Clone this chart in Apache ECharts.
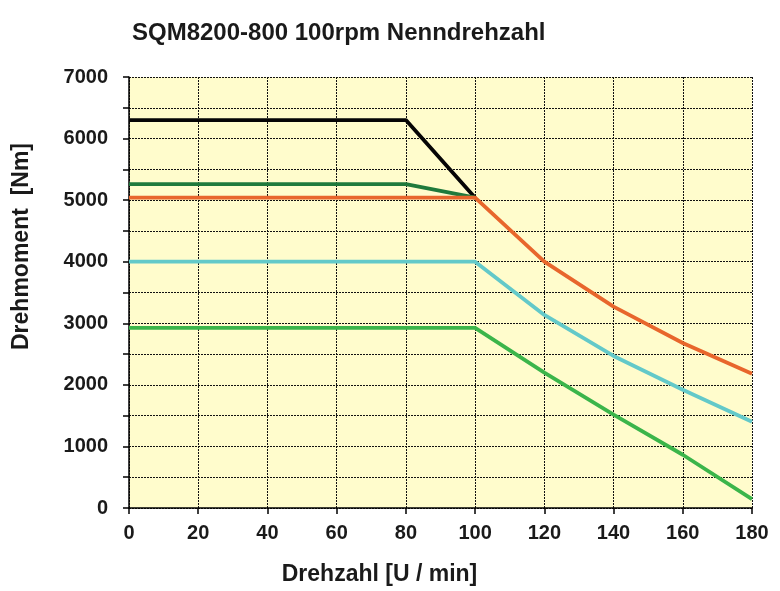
<!DOCTYPE html>
<html><head><meta charset="utf-8">
<script src="https://cdn.jsdelivr.net/npm/echarts@6/dist/echarts.min.js"></script>
<style>html,body{margin:0;padding:0;background:#fff}#c{width:780px;height:591px}</style>
</head><body><div id="c"></div>
<script>
const titleText = 'SQM8200-800 100rpm Nenndrehzahl';
const xName = 'Drehzahl [U / min]';
const yName = 'Drehmoment  [Nm]';

const xBlack = [0, 80, 100];
const yBlack = [6300, 6300, 5040];
const xDarkGreen = [0, 80, 100];
const yDarkGreen = [5260, 5260, 5040];
const xOrange = [0, 100, 120, 140, 160, 180];
const yOrange = [5040, 5040, 4000, 3270, 2680, 2180];
const xCyan = [0, 100, 120, 140, 160, 180];
const yCyan = [4000, 4000, 3135, 2470, 1920, 1400];
const xGreen = [0, 100, 120, 140, 160, 180];
const yGreen = [2925, 2925, 2200, 1515, 865, 145];

function pairs(xs, ys){ return xs.map((x,i)=>[x, ys[i]]); }

const FONT = 'Liberation Sans, Arial, sans-serif';
const chart = echarts.init(document.getElementById('c'), null, {renderer:'canvas'});
function line(name, xs, ys, color){
  return {name, type:'line', data:pairs(xs,ys), symbol:'none', lineStyle:{color, width:3.8}, itemStyle:{color}, z:3};
}
chart.setOption({
  animation:false,
  backgroundColor:'#ffffff',
  title:{text:titleText, left:127, top:16, textStyle:{fontFamily:FONT, fontWeight:'bold', fontSize:24, color:'#1a1a1a'}},
  grid:{left:129, right:28, top:77, bottom:83, show:true, backgroundColor:'#FFFCCC', borderWidth:0},
  xAxis:{type:'value', min:0, max:180, interval:20,
    name:xName, nameLocation:'middle', nameGap:55,
    nameTextStyle:{fontFamily:FONT, fontWeight:'bold', fontSize:23, color:'#1a1a1a', padding:[0,122,0,0]},
    axisLine:{show:true, lineStyle:{color:'#000', width:1.5}},
    axisTick:{show:true, length:6, lineStyle:{color:'#000', width:1.5}},
    axisLabel:{fontFamily:FONT, fontWeight:'bold', fontSize:20, color:'#1a1a1a', margin:15},
    splitLine:{show:true, lineStyle:{color:'#111', width:1, type:[2,1]}}
  },
  yAxis:{type:'value', min:0, max:7000, interval:500,
    name:yName, nameLocation:'middle', nameGap:96,
    nameTextStyle:{fontFamily:FONT, fontWeight:'bold', fontSize:23, color:'#1a1a1a', padding:[0,0,0,92]},
    axisLine:{show:true, lineStyle:{color:'#000', width:1.5}},
    axisTick:{show:true, length:6, lineStyle:{color:'#000', width:1.5}},
    axisLabel:{fontFamily:FONT, fontWeight:'bold', fontSize:20, color:'#1a1a1a', margin:21,
      formatter:v=> (v % 1000 === 0 ? String(v) : '')},
    splitLine:{show:true, lineStyle:{color:'#111', width:1, type:[2,1]}}
  },
  series:[
    line('black', xBlack, yBlack, '#050505'),
    line('darkgreen', xDarkGreen, yDarkGreen, '#1F7A3C'),
    line('orange', xOrange, yOrange, '#E8662C'),
    line('cyan', xCyan, yCyan, '#63C9C9'),
    line('green', xGreen, yGreen, '#3BB54A')
  ]
});
</script></body></html>
